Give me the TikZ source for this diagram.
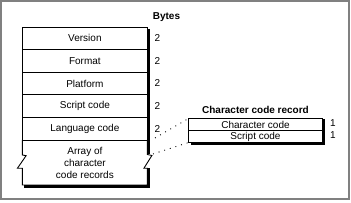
\documentclass[tikz,border=0pt]{standalone}
\usepackage{fontspec}
\setsansfont{Liberation Sans}
\usetikzlibrary{positioning, calc}
\usepackage{xcolor}
\definecolor{frameGray}{HTML}{808080}
\tikzset{
    font=\sffamily\fontsize{10}{12}\selectfont,
    x=1pt, y=1pt,
    % Shapes
    field/.style={rectangle, draw, line width=0.9pt, inner sep=0pt, outer sep=0pt,
                  minimum width=125pt, minimum height=22.6pt, align=center},
    recfield/.style={rectangle, draw, line width=0.9pt, inner sep=0pt, outer sep=0pt,
                     minimum width=134pt, minimum height=12pt, align=center},
    % Shadows & Links
    shadowline/.style={line width=2.2pt, line cap=butt},
    outline/.style={line width=0.9pt, line join=miter},
    dots/.style={line width=0.9pt, dash pattern=on 0.9pt off 5pt},
    % Labels
    num/.style={inner sep=0.5pt},
    heading/.style={font=\sffamily\bfseries\fontsize{10}{12}\selectfont, inner sep=0pt}
}
\begin{document}
\begin{tikzpicture}

\useasboundingbox (0,0) rectangle (351,203);
\draw[frameGray, line width=2pt] (1,202) rectangle (349.2,3.8);

% Nodes
\node[field] (version) at (84.9,164.7) {Version};
\node[field, below=0pt of version] (format) {Format};
\node[field, below=0pt of format] (platform) {Platform};
\node[field, below=0pt of platform] (script) {Script code};
\node[field, below=0pt of script] (language) {Language code};
\node[field, draw=none, minimum height=45pt, below=0pt of language] (array) {Array of\\character\\code records};

\node[heading] (bytes) at (166.5,186) {Bytes};
\foreach \f in {version, format, platform, script, language}
    \node[num, right=6.5pt of \f.east] (\f-size) {2};

\node[heading] (rectitle) at (255.5,93) {Character code record};
\node[recfield] (charcode) at (255.5,78.5) {Character code};
\node[recfield, below=0pt of charcode] (reccode) {Script code};
\node[num, right=7pt of charcode.east, yshift=1.5pt] (charcode-size) {1};
\node[num, right=7pt of reccode.east, yshift=1.5pt] (reccode-size) {1};

% Broken outline of the array
\draw[outline] (language.south west) -- ++(0,-15) -- ++(3.7,-0.7) -- ++(-8.7,-12.6) -- ++(5,0)
    -- (array.south west) -- (array.south east) -- ++(0,16.7) -- ++(-3.5,0) -- ++(8,12.8)
    -- ++(-4.5,1) -- (language.south east);

% Shadows
\draw[shadowline] ([xshift=1.5pt,yshift=-2pt]version.north east) -- ([xshift=1.5pt,yshift=-14.5pt]language.south east);
\draw[shadowline] ([xshift=1.5pt,yshift=16.7pt]array.south east) -- ([xshift=1.5pt,yshift=-1.5pt]array.south east)
    -- ([xshift=2pt,yshift=-1.5pt]array.south west);
\draw[shadowline] ([xshift=1.5pt,yshift=-1pt]charcode.north east) -- ([xshift=1.5pt,yshift=-1.2pt]reccode.south east)
    -- ([xshift=2pt,yshift=-1.2pt]reccode.south west);

% Links
\coordinate (langlink) at (155,65);
\coordinate (arraylink) at (153,49);
\draw[dots] (langlink) -- (charcode.north west);
\draw[dots] (arraylink) -- (reccode.south west);

\end{tikzpicture}
\end{document}
